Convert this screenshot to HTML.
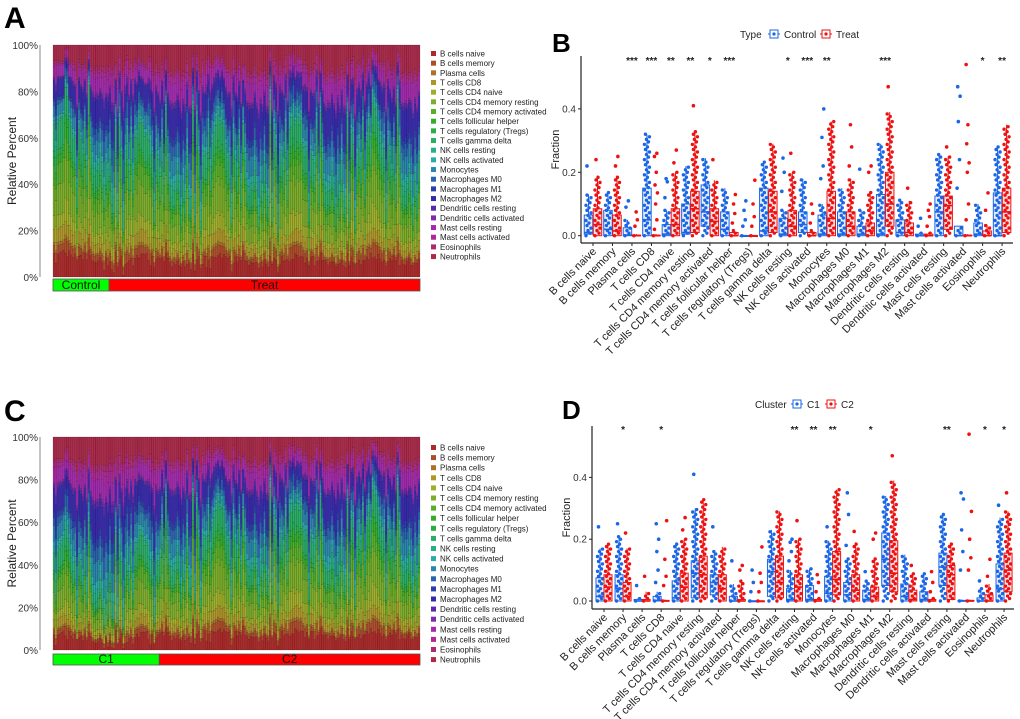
<!DOCTYPE html>
<html><head><meta charset="utf-8"><style>
html,body{margin:0;padding:0;background:#fff;}
svg{display:block;font-family:"Liberation Sans",Arial,sans-serif;}
</style></head><body>
<svg id="fig" width="1020" height="719" viewBox="0 0 1020 719" xmlns="http://www.w3.org/2000/svg">
<text x="4" y="28" font-size="30" font-weight="bold">A</text>
<text x="552" y="52" font-size="26" font-weight="bold">B</text>
<text x="4" y="421" font-size="30" font-weight="bold">C</text>
<text x="562" y="419" font-size="26" font-weight="bold">D</text>
<g id="pa"></g>
<g id="pc"></g>
<g id="pb"></g>
<g id="pd"></g>
</svg>
<script>
const cellTypes=["B cells naive","B cells memory","Plasma cells","T cells CD8","T cells CD4 naive","T cells CD4 memory resting","T cells CD4 memory activated","T cells follicular helper","T cells regulatory (Tregs)","T cells gamma delta","NK cells resting","NK cells activated","Monocytes","Macrophages M0","Macrophages M1","Macrophages M2","Dendritic cells resting","Dendritic cells activated","Mast cells resting","Mast cells activated","Eosinophils","Neutrophils"];
const meanComposition=[0.07,0.03,0.01,0.04,0.05,0.10,0.06,0.03,0.02,0.08,0.04,0.03,0.07,0.05,0.03,0.11,0.02,0.01,0.07,0.03,0.02,0.10];
const sampleShift=[0.3,-0.2,0.5,0.1,-0.4,0.2,0.6,-0.1,0.0,0.4,-0.3,0.2,-0.5,0.1,0.3,-0.2,0.45,-0.35,0.15,0.05,-0.15,0.35,-0.45,0.25,0.55,-0.05,0.2,-0.25,0.4,-0.1,0.1,-0.4,0.3,0.0,-0.2,0.5,-0.3,0.2,0.35,-0.15];
const sampleShift2=[0.2,-0.4,0.1,0.5,-0.1,-0.3,0.4,0.0,-0.5,0.3,0.15,-0.2,0.45,-0.35,0.05,0.25,-0.15,0.6,-0.45,0.1,0.35,-0.25,0.0,0.2,-0.05,0.5,-0.4,0.3,-0.1,0.15,-0.3,0.4,0.05,-0.2,0.25,-0.5,0.1,0.35,-0.15,0.0,0.45,-0.35,0.2];
const yTicksPct=[0,20,40,60,80,100];
const groupsA=["Control","Treat"], groupCountsA=[29,161];
const groupsC=["C1","C2"], groupCountsC=[55,135];

const bCtrl=[[0.005,0.01,0.065,0.13],[0,0.02,0.08,0.14],[0,0.002,0.025,0.05],[0,0.05,0.15,0.32],[0,0.005,0.035,0.08],[0.005,0.01,0.1,0.22],[0.03,0.075,0.16,0.245],[0,0.02,0.075,0.15],[0,0,0,0],[0,0.015,0.15,0.235],[0,0.005,0.055,0.08],[0.01,0.035,0.075,0.18],[0,0.005,0.065,0.1],[0,0.005,0.075,0.15],[0,0.005,0.03,0.08],[0,0.005,0.13,0.29],[0,0.01,0.05,0.115],[0,0,0.005,0.01],[0,0.075,0.125,0.26],[0,0,0.03,0.03],[0,0.005,0.04,0.1],[0,0,0.135,0.28]];
const bTreat=[[0,0.035,0.085,0.19],[0,0.015,0.065,0.19],[0,0,0.002,0.005],[0,0,0.002,0.005],[0,0.035,0.085,0.2],[0.01,0.085,0.14,0.33],[0,0.045,0.085,0.175],[0,0,0.01,0.02],[0,0,0,0],[0.01,0.075,0.14,0.29],[0,0.03,0.08,0.2],[0,0,0.01,0.02],[0,0.055,0.14,0.36],[0,0.03,0.075,0.18],[0,0.015,0.04,0.14],[0.03,0.1,0.2,0.39],[0,0.01,0.04,0.11],[0,0,0.005,0.01],[0.02,0.095,0.125,0.25],[0,0,0.002,0.005],[0,0,0.015,0.035],[0.01,0.075,0.15,0.35]];
const bCtrlOut=[[0.22],[],[0.09,0.11],[],[0.12,0.17,0.18],[],[],[],[0.03,0.05,0.08,0.11],[],[0.14,0.2,0.245],[],[0.18,0.22,0.31,0.4],[],[0.21],[],[],[0.03,0.055],[],[0.15,0.24,0.36,0.44,0.47],[],[]];
const bTreatOut=[[0.24],[0.22,0.25],[0.03,0.05,0.075],[0.02,0.05,0.1,0.135,0.16,0.2,0.25,0.26],[0.23,0.27],[0.41],[0.24],[0.04,0.07,0.1,0.13],[0.03,0.06,0.1,0.175],[],[0.26],[0.04,0.07,0.1],[],[0.22,0.28,0.35],[0.2,0.22],[0.47],[0.15],[0.03,0.06,0.08,0.1],[0.28],[0.05,0.1,0.2,0.23,0.29,0.35,0.54],[0.08,0.135],[]];
const bStars=["","","***","***","**","**","*","***","","","*","***","**","","","***","","","","","*","**"];

const dC1=[[0,0.015,0.075,0.17],[0,0.04,0.085,0.21],[0,0,0.005,0.01],[0,0.002,0.015,0.03],[0,0.01,0.065,0.19],[0.01,0.09,0.13,0.3],[0.02,0.06,0.085,0.16],[0,0,0.015,0.055],[0,0,0,0],[0.015,0.095,0.135,0.23],[0,0.005,0.04,0.1],[0,0.005,0.05,0.105],[0,0.025,0.08,0.195],[0,0.02,0.06,0.14],[0,0.005,0.035,0.07],[0.05,0.135,0.22,0.34],[0,0.015,0.055,0.15],[0,0.005,0.03,0.09],[0.05,0.11,0.155,0.285],[0,0,0.002,0.005],[0,0,0.01,0.04],[0,0.04,0.12,0.27]];
const dC2=[[0,0.045,0.085,0.185],[0,0.015,0.06,0.17],[0,0,0.005,0.03],[0,0,0.002,0.005],[0,0.045,0.09,0.2],[0.01,0.085,0.145,0.33],[0,0.04,0.085,0.175],[0,0,0.005,0.07],[0,0,0,0],[0.01,0.06,0.145,0.29],[0,0.045,0.085,0.2],[0,0,0.005,0.01],[0.02,0.07,0.16,0.36],[0,0.035,0.085,0.19],[0,0.015,0.045,0.14],[0.03,0.09,0.195,0.39],[0,0.005,0.035,0.09],[0,0,0.005,0.01],[0.005,0.085,0.115,0.19],[0,0,0.002,0.005],[0,0,0.02,0.055],[0.03,0.1,0.155,0.29]];
const dC1Out=[[0.24],[0.25],[0.05],[0.06,0.1,0.16,0.2,0.25],[],[0.41],[0.24],[0.13],[0.03,0.06,0.1],[],[0.13,0.16,0.19,0.2],[],[0.24],[0.18,0.28,0.35],[0.095],[],[],[],[],[0.1,0.16,0.23,0.33,0.35],[0.065],[0.31]];
const dC2Out=[[],[0.22],[0.08],[0.05,0.08,0.135,0.26],[0.23,0.27],[],[],[0.1,0.115],[0.03,0.06,0.09,0.175],[],[0.26],[0.03,0.06,0.085],[],[0.225],[0.2,0.22],[0.47],[0.115],[0.03,0.06,0.095],[],[0.1,0.14,0.2,0.29,0.54],[0.08,0.135],[0.35]];
const dStars=["","*","","*","","","","","","","**","**","**","","*","","","","**","","*","*"];
const fracTicks=[0,0.2,0.4];

const NS="http://www.w3.org/2000/svg";
function mk(parent,tag,attrs,txt){const e=document.createElementNS(NS,tag);for(const k in attrs)e.setAttribute(k,attrs[k]);if(txt!==undefined)e.textContent=txt;parent.appendChild(e);return e;}
function cellColor(k){return `hsl(${k*345/21},62%,42%)`;}

function stacked(g,cfg){
  const yS=v=>cfg.bottom-(v/100)*(cfg.bottom-cfg.top);
  const total=cfg.counts.reduce((a,b)=>a+b,0);
  const bw=(cfg.right-cfg.left)/total;
  for(let s=0;s<total;s++){
    const sh=sampleShift[(s*7)%sampleShift.length]+(s<cfg.counts[0]?cfg.firstBias:0);
    const sh2=sampleShift2[(s*5)%sampleShift2.length];
    const w=meanComposition.map((m,k)=>m*Math.max(0.1,1+sh*(k<10?1:-0.8)+sh2*(k%3===0?1:(k%3===1?-0.7:0.2))));
    const sum=w.reduce((a,b)=>a+b,0);
    let acc=0;
    for(let k=0;k<w.length;k++){
      const f=w[k]/sum*100;
      const r=mk(g,'rect',{x:(cfg.left+s*bw).toFixed(2),y:yS(acc+f).toFixed(2),width:bw.toFixed(2),height:(yS(acc)-yS(acc+f)).toFixed(2),fill:cellColor(k),stroke:'rgba(0,0,0,0.4)','stroke-width':0.35});
      
      
      acc+=f;
    }
  }
  const ax=mk(g,'line',{x1:cfg.left-13,x2:cfg.left-13,y1:cfg.top,y2:cfg.bottom,stroke:'#888','stroke-width':1});
  
  yTicksPct.forEach(t=>{
    const tl=mk(g,'text',{x:cfg.left-15,y:yS(t)+4,'font-size':10,'text-anchor':'end',fill:'#333'},t+'%');
    
  });
  const yt=mk(g,'text',{x:0,y:0,'font-size':12,'text-anchor':'middle',fill:'#222',transform:`translate(16,${(cfg.top+cfg.bottom)/2}) rotate(-90)`},'Relative Percent');
  
  let x0=cfg.left;
  cfg.counts.forEach((c,i)=>{
    const w=c*bw;
    const r=mk(g,'rect',{x:x0,y:cfg.bandY,width:w,height:cfg.bandH,fill:i===0?'#00ff00':'#ff0000',stroke:'#555','stroke-width':0.8});
    
    const t=mk(g,'text',{x:x0+w/2,y:cfg.bandY+cfg.bandH-2,'font-size':12,'text-anchor':'middle',fill:'#111'},cfg.groups[i]);
    
    x0+=w;
  });
  cellTypes.forEach((n,k)=>{
    const y=cfg.legY+k*cfg.legStep;
    const sq=mk(g,'rect',{x:431,y:y-3,width:5,height:5,fill:cellColor(k)});
    
    const t=mk(g,'text',{x:440,y:y+2.5,'font-size':8,fill:'#222'},n);
    
  });
}
stacked(document.getElementById('pa'),{left:53,right:420,top:45,bottom:277,counts:groupCountsA,groups:groupsA,firstBias:0.2,bandY:279,bandH:12,legY:54,legStep:9.67});
stacked(document.getElementById('pc'),{left:53,right:420,top:437,bottom:650,counts:groupCountsC,groups:groupsC,firstBias:-0.3,bandY:654,bandH:11,legY:448,legStep:10.1});

function boxplot(g,cfg){
  const yS=v=>cfg.y0-v*cfg.ppu;
  const xC=i=>cfg.x0+i*cfg.step;
  const cols=['#1a66e6','#ee1111'];
  const a1=mk(g,'line',{x1:cfg.axL,x2:cfg.axL,y1:cfg.top,y2:cfg.axY,stroke:'#222','stroke-width':1.2});
  
  const a2=mk(g,'line',{x1:cfg.axL,x2:cfg.axR,y1:cfg.axY,y2:cfg.axY,stroke:'#222','stroke-width':1.2});
  
  fracTicks.forEach(t=>{
    mk(g,'line',{x1:cfg.axL-3,x2:cfg.axL,y1:yS(t),y2:yS(t),stroke:'#222'});
    const l=mk(g,'text',{x:cfg.axL-5,y:yS(t)+3.5,'font-size':10,'text-anchor':'end',fill:'#333'},t.toFixed(1));
    
  });
  const yt=mk(g,'text',{x:0,y:0,'font-size':11,'text-anchor':'middle',fill:'#222',transform:`translate(${cfg.axL-22},${(cfg.top+cfg.axY)/2}) rotate(-90)`},'Fraction');
  
  cellTypes.forEach((n,i)=>{
    const cx=xC(i);
    mk(g,'line',{x1:cx,x2:cx,y1:cfg.axY,y2:cfg.axY+3,stroke:'#222'});
    const l=mk(g,'text',{x:0,y:0,'font-size':11,'text-anchor':'end',fill:'#222',transform:`translate(${cx+4},${cfg.axY+9}) rotate(-45)`},n);
    
    const st=mk(g,'text',{x:cx,y:cfg.starY,'font-size':10,'font-weight':'bold','text-anchor':'middle',fill:'#222'},cfg.stars[i]);
    
    [0,1].forEach(s=>{
      const d=cfg.series[s][i], out=cfg.outs[s][i];
      const bx=cx+(s===0?-cfg.off:cfg.off), hw=cfg.bw/2, c=cols[s];
      const wl=mk(g,'line',{x1:bx,x2:bx,y1:yS(d[2]),y2:yS(d[3]),stroke:c,'stroke-width':1});
      
      const r=mk(g,'rect',{x:bx-hw,y:yS(d[2]),width:cfg.bw,height:Math.max(0.8,yS(d[0])-yS(d[2])),fill:s?'rgba(238,17,17,0.12)':'rgba(26,102,230,0.10)',stroke:c,'stroke-width':1});
      
      const m=mk(g,'line',{x1:bx-hw,x2:bx+hw,y1:yS(d[1]),y2:yS(d[1]),stroke:c,'stroke-width':1.6});
      
      const jit=[-2.5,1.5,-0.5,2.5,-1.5,0.5];
      let j=0;
      for(let v=0;v<=d[3]+1e-9;v+=0.008){
        const p=mk(g,'circle',{cx:bx+jit[j%6],cy:yS(v),r:1.7,fill:c});
        
        j++;
      }
      out.forEach((v,k)=>{
        const p=mk(g,'circle',{cx:bx+jit[k%6]*0.6,cy:yS(v),r:1.8,fill:c});
        
      });
    });
  });
  const L=cfg.leg;
  const lt=mk(g,'text',{x:L.x,y:L.y+4,'font-size':10,fill:'#222'},L.title);
  
  [0,1].forEach(s=>{
    const ix=L.icons[s];
    const gi=mk(g,'g',{});
    
    mk(gi,'line',{x1:ix,x2:ix+12,y1:L.y,y2:L.y,stroke:cols[s]});
    mk(gi,'rect',{x:ix+2,y:L.y-4,width:8,height:8,fill:'#fff',stroke:cols[s]});
    mk(gi,'circle',{cx:ix+6,cy:L.y,r:1.6,fill:cols[s]});
    const t=mk(g,'text',{x:ix+16,y:L.y+4,'font-size':10,fill:'#222'},L.names[s]);
    
  });
}
boxplot(document.getElementById('pb'),{y0:235.7,ppu:317,x0:593,step:19.48,off:4.5,bw:8.5,axL:581,axR:1013,axY:243,top:56,starY:64,stars:bStars,series:[bCtrl,bTreat],outs:[bCtrlOut,bTreatOut],leg:{x:740,y:34,title:'Type',icons:[768,820],names:['Control','Treat']}});
boxplot(document.getElementById('pd'),{y0:601,ppu:309,x0:604,step:19.05,off:4,bw:8,axL:592,axR:1014,axY:609,top:426,starY:433,stars:dStars,series:[dC1,dC2],outs:[dC1Out,dC2Out],leg:{x:755,y:404,title:'Cluster',icons:[791,825],names:['C1','C2']}});
</script>
</body></html>
